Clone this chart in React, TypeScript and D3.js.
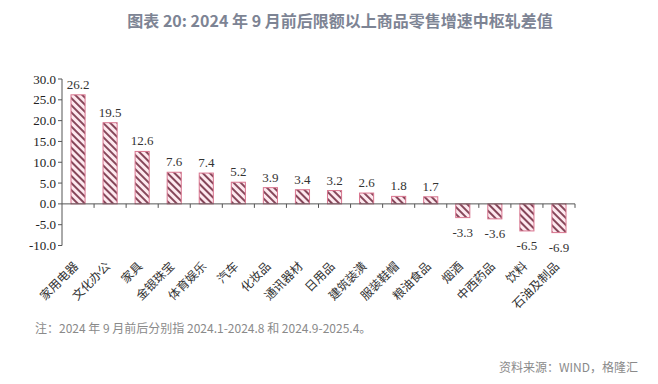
import React from "react";
import * as d3 from "d3";

const categories = ["家用电器","文化办公","家具","金银珠宝","体育娱乐","汽车","化妆品","通讯器材","日用品","建筑装潢","服装鞋帽","粮油食品","烟酒","中西药品","饮料","石油及制品"];
const values = [26.2,19.5,12.6,7.6,7.4,5.2,3.9,3.4,3.2,2.6,1.8,1.7,-3.3,-3.6,-6.5,-6.9];
const yTicks = [30,25,20,15,10,5,0,-5,-10];
const title = "图表 20: 2024 年 9 月前后限额以上商品零售增速中枢轧差值";
const note = "注：2024 年 9 月前后分别指 2024.1-2024.8 和 2024.9-2025.4。";
const source = "资料来源：WIND，格隆汇";

export default function App() {
  const W = 658, H = 384;
  const x0 = 62, x1 = 575;
  const y = d3.scaleLinear().domain([-10, 30]).range([245.5, 79]);
  const x = d3.scaleBand<string>().domain(categories).range([x0, x1]).paddingInner(0.56).paddingOuter(0.28);
  const xb = d3.scaleBand<string>().domain(categories).range([x0, x1]);
  const serif = "'Liberation Serif', 'Times New Roman', serif";
  const cjk = "'Noto Sans CJK SC', 'Noto Sans', sans-serif";
  return (
    <svg width={W} height={H} style={{ position: "absolute", left: 0, top: 0, background: "#fff" }}>
      <defs>
        <pattern id="hatch" patternUnits="userSpaceOnUse" width="5" height="5" patternTransform="rotate(-45)">
          <rect width="5" height="5" fill="#fde9ef" />
          <rect x="0" y="0" width="2" height="5" fill="#86475a" />
        </pattern>
      </defs>
      <text x={340} y={27} textAnchor="middle" fontFamily={cjk} fontSize={16} fontWeight={600} fill="#7d8494">{title}</text>
      {values.map((v, i) => {
        const c = categories[i];
        const top = y(Math.max(v, 0));
        const h = Math.abs(y(v) - y(0));
        return (
          <g key={c}>
            <rect x={x(c)!} y={top} width={x.bandwidth()} height={h} fill="url(#hatch)" stroke="#d9758f" strokeWidth={1} />
            <text x={x(c)! + x.bandwidth() / 2} y={v >= 0 ? y(v) - 6 : y(v) + 19} textAnchor="middle" fontFamily={serif} fontSize={13} fill="#333">{v.toFixed(1)}</text>
          </g>
        );
      })}
      <line x1={x0} x2={x0} y1={y(30)} y2={y(-10)} stroke="#555" strokeWidth={1} />
      {yTicks.map(t => (
        <g key={t}>
          <line x1={x0 - 4} x2={x0} y1={y(t)} y2={y(t)} stroke="#555" />
          <text x={x0 - 6} y={y(t) + 4.5} textAnchor="end" fontFamily={serif} fontSize={13} fill="#222">{t.toFixed(1)}</text>
        </g>
      ))}
      <line x1={x0} x2={x1} y1={y(0)} y2={y(0)} stroke="#555" strokeWidth={1} />
      {categories.map(c => (
        <line key={"t" + c} x1={xb(c)! + xb.bandwidth()} x2={xb(c)! + xb.bandwidth()} y1={y(0)} y2={y(0) + 4} stroke="#555" />
      ))}
      {categories.map(c => {
        const cx = xb(c)! + xb.bandwidth() / 2 + 1;
        const cy = 267;
        return (
          <text key={"l" + c} x={cx} y={cy} transform={`rotate(-45 ${cx} ${cy})`} textAnchor="end" fontFamily={cjk} fontSize={12} fill="#333">{c}</text>
        );
      })}
      <text x={35} y={333} fontFamily={cjk} fontSize={12} fill="#8a8a8a">{note}</text>
      <text x={499} y={372} fontFamily={cjk} fontSize={12} fill="#8a8a8a">{source}</text>
    </svg>
  );
}
